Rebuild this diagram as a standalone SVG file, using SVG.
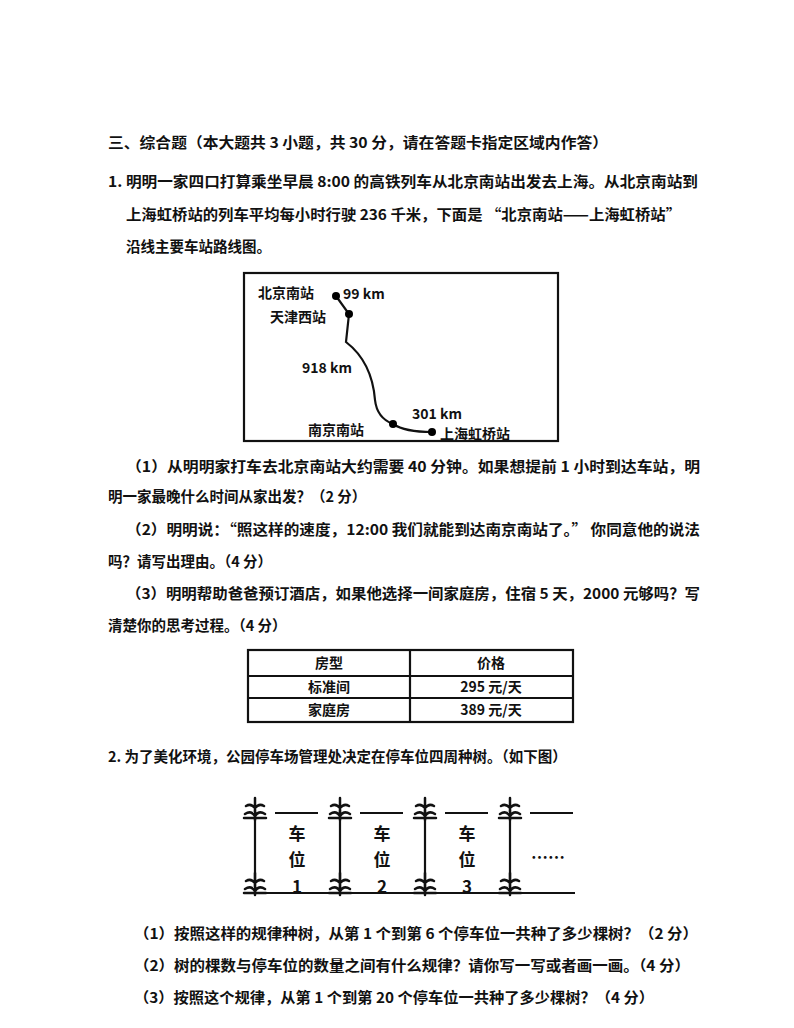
<svg xmlns="http://www.w3.org/2000/svg" width="794" height="1028" viewBox="0 0 794 1028">
<style>
text{font-family:"Noto Sans CJK SC","Liberation Serif",sans-serif;font-size:14.5px;font-weight:bold;fill:#111}
.s{font-size:14px}
.ln{stroke:#111;stroke-width:2.2;fill:none}
.tr{stroke:#111;stroke-width:2.5;fill:none;stroke-linecap:round}
</style>
<defs>
<g id="tree"><path class="tr" d="M0,-12 V10 M-9,-4 Q-4,-7 0,-2 Q4,-7 9,-4 M-10,4 Q-4,0 0,6 Q4,0 10,4 M-11,8 H11"/></g>
</defs>
<rect width="794" height="1028" fill="#fff"/>
<g id="text-top">
<text x="108" y="148" textLength="500" lengthAdjust="spacingAndGlyphs">三、综合题（本大题共 3 小题，共 30 分，请在答题卡指定区域内作答）</text>
<text x="108" y="187" textLength="590" lengthAdjust="spacingAndGlyphs">1. 明明一家四口打算乘坐早晨 8:00 的高铁列车从北京南站出发去上海。从北京南站到</text>
<text x="126" y="220" textLength="555" lengthAdjust="spacingAndGlyphs">上海虹桥站的列车平均每小时行驶 236 千米，下面是 “北京南站——上海虹桥站”</text>
<text x="126" y="252">沿线主要车站路线图。</text>
</g>
<g id="map">
<rect x="244" y="273" width="314" height="168" class="ln" stroke-width="2"/>
<path class="ln" d="M336,296 L349,314 L346,342 Q372,362 375,400 Q377,418 393,424 Q405,432 432,432"/>
<circle cx="336" cy="296" r="4"/><circle cx="349" cy="314" r="4"/><circle cx="393" cy="424" r="4"/><circle cx="432" cy="432" r="4"/>
<text x="258" y="298" class="s">北京南站</text>
<text x="343" y="299" class="s" font-family="Liberation Serif">99 km</text>
<text x="270" y="322" class="s">天津西站</text>
<text x="302" y="373" class="s" font-family="Liberation Serif">918 km</text>
<text x="412" y="419" class="s" font-family="Liberation Serif">301 km</text>
<text x="308" y="435" class="s">南京南站</text>
<text x="440" y="439" class="s">上海虹桥站</text>
</g>
<g id="text-q1">
<text x="126" y="472" textLength="574" lengthAdjust="spacingAndGlyphs">（1）从明明家打车去北京南站大约需要 40 分钟。如果想提前 1 小时到达车站，明</text>
<text x="108" y="502">明一家最晚什么时间从家出发？（2 分）</text>
<text x="126" y="535" textLength="574" lengthAdjust="spacingAndGlyphs">（2）明明说：“照这样的速度，12:00 我们就能到达南京南站了。” 你同意他的说法</text>
<text x="108" y="567">吗？请写出理由。（4 分）</text>
<text x="126" y="599" textLength="574" lengthAdjust="spacingAndGlyphs">（3）明明帮助爸爸预订酒店，如果他选择一间家庭房，住宿 5 天，2000 元够吗？写</text>
<text x="108" y="631">清楚你的思考过程。（4 分）</text>
</g>
<g id="table">
<rect x="248" y="650" width="325" height="72" class="ln" stroke-width="1.8"/>
<path class="ln" stroke-width="1.5" d="M248,676 H573 M248,698 H573 M410,650 V722"/>
<text x="329" y="668" text-anchor="middle" class="s">房型</text>
<text x="491" y="668" text-anchor="middle" class="s">价格</text>
<text x="329" y="692" text-anchor="middle" class="s">标准间</text>
<text x="491" y="692" text-anchor="middle" class="s">295 元/天</text>
<text x="329" y="715" text-anchor="middle" class="s">家庭房</text>
<text x="491" y="715" text-anchor="middle" class="s">389 元/天</text>
</g>
<g id="text-q2">
<text x="108" y="762">2. 为了美化环境，公园停车场管理处决定在停车位四周种树。（如下图）</text>
</g>
<g id="parking">
<path class="ln" stroke-width="2.5" d="M255,810 V893 M340,810 V893 M425,810 V893 M510,810 V893 M255,893 H575 M275,813 H318 M360,813 H403 M445,813 H488 M530,813 H573"/>
<use href="#tree" x="255" y="810"/><use href="#tree" x="340" y="810"/><use href="#tree" x="425" y="810"/><use href="#tree" x="510" y="810"/>
<use href="#tree" x="255" y="885"/><use href="#tree" x="340" y="885"/><use href="#tree" x="425" y="885"/><use href="#tree" x="510" y="885"/>
<g text-anchor="middle" font-size="17">
<text x="297" y="840" style="font-size:17px">车</text><text x="297" y="866" style="font-size:17px">位</text><text x="297" y="893" style="font-size:17px" font-family="Liberation Sans">1</text>
<text x="382" y="840" style="font-size:17px">车</text><text x="382" y="866" style="font-size:17px">位</text><text x="382" y="893" style="font-size:17px" font-family="Liberation Sans">2</text>
<text x="467" y="840" style="font-size:17px">车</text><text x="467" y="866" style="font-size:17px">位</text><text x="467" y="893" style="font-size:17px" font-family="Liberation Sans">3</text>
<text x="548" y="864" style="font-size:17px">……</text>
</g>
</g>
<g id="text-q2b">
<text x="134" y="939" textLength="564" lengthAdjust="spacingAndGlyphs">（1）按照这样的规律种树，从第 1 个到第 6 个停车位一共种了多少棵树？（2 分）</text>
<text x="134" y="971" textLength="556" lengthAdjust="spacingAndGlyphs">（2）树的棵数与停车位的数量之间有什么规律？请你写一写或者画一画。（4 分）</text>
<text x="134" y="1003" textLength="520" lengthAdjust="spacingAndGlyphs">（3）按照这个规律，从第 1 个到第 20 个停车位一共种了多少棵树？（4 分）</text>
</g>
</svg>
